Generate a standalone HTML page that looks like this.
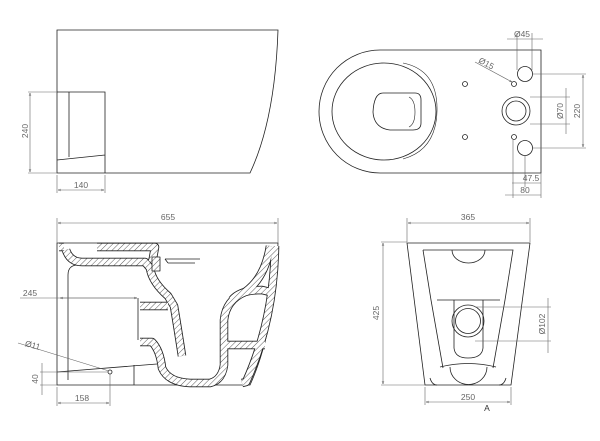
<!DOCTYPE html>
<html><head><meta charset="utf-8"><style>
html,body{margin:0;padding:0;background:#fff}
svg{display:block}
text{font-family:"Liberation Sans",sans-serif;font-size:8.5px;fill:#666}
</style></head><body>
<svg width="600" height="441" viewBox="0 0 600 441" xmlns="http://www.w3.org/2000/svg">
<defs>
<pattern id="h" width="4" height="4" patternUnits="userSpaceOnUse" patternTransform="rotate(45)">
<rect width="4" height="4" fill="#fff"/><line x1="0" y1="0" x2="0" y2="4" stroke="#333" stroke-width="0.8"/>
</pattern>
<marker id="a" viewBox="0 0 6 6" refX="6" refY="3" markerWidth="5" markerHeight="5" orient="auto-start-reverse"><path d="M0,1 L6,3 L0,5" fill="none" stroke="#555" stroke-width="0.8"/></marker>
</defs>
<g fill="none" stroke="#222" stroke-width="0.8">
<!-- top-left side view -->
<path d="M57,173 L57,30 L278,30 Q275,120 250,173 Z"/>
<path d="M57,92 L105,92 L105,173 M69,92 L69,157 M57,160 L105,155"/>
<!-- top-right plan -->
<path d="M380,50 L541,50 L541,173 L380,173 A61,61.5 0 0 1 380,50 Z"/>
<ellipse cx="384" cy="111.5" rx="52" ry="48.5"/>
<path d="M403,63 Q438,70 437,111 Q436,150 403,159" stroke-width="0.6"/>
<path d="M383,93 L415,93 Q421,93 421,100 L421,123 Q421,130 413,130 L390,130 Q374,128 373,112 Q374,93 383,93 Z"/>
<path d="M409,97 Q415,100 415,112 Q415,124 409,127" stroke-width="0.6"/>
<circle cx="465" cy="84" r="2.5"/><circle cx="465" cy="137" r="2.5"/>
<circle cx="514" cy="84" r="2.5"/><circle cx="514" cy="137" r="2.5"/>
<circle cx="525" cy="74" r="7.5"/><circle cx="525" cy="148" r="7.5"/>
<circle cx="516" cy="111" r="14"/><circle cx="516" cy="111" r="10"/>
<!-- bottom-left section -->
<path d="M57,385 L57,243 L278,243 Q275,330 250,385 Z"/>
<path d="M68,380 L68,275 Q68,265 78,265"/>
<path d="M57,372 L157,364 M134,365 L134,385 M138,298 L138,340"/>
<path d="M165,259 L200,259 M168,263 L195,263 M165,259 L168,263"/>
<circle cx="110" cy="372" r="2"/>
<!-- bottom-right front -->
<path d="M407,243 L530,243 L511,385 L425,385 Z"/>
<path d="M423,250 L513,250 L505,300 L493,368 M423,250 L431,300 L443,368"/>
<path d="M452,250 A16.5,13 0 0 0 485,250"/>
<path d="M437,300 L500,300"/>
<path d="M454,300 L454,348 Q455,358 468,358 Q482,358 483,348 L483,300"/>
<circle cx="468" cy="321" r="16"/><circle cx="468" cy="321" r="12.5"/>
<path d="M440,367 Q468,360 496,367 M450,367 A18,17 0 0 0 487,367"/>
<path d="M430,378 Q432,385 437,385 M506,378 Q504,385 499,385"/>
</g>
<!-- hatched section walls -->
<g fill="none" stroke-linejoin="round" stroke-linecap="butt">
<g stroke="#222" stroke-width="8.5">
<path d="M59,247 L64,247 M97,247 L155,247 L153,258 L152,262"/>
<path d="M66,250 Q70,262 82,262 L145,262 L150,268 Q152,282 168,296 L174,306 Q178,330 182,356"/>
<path d="M140,306 L168,306"/>
<path d="M140,342 L152,342 Q160,350 162,368 Q168,382 190,383 L210,383 Q222,380 224,365 L224,320 Q226,300 245,292 Q265,278 270,246"/>
<path d="M275,246 Q274,320 246,382 L242,383"/>
<path d="M225,345 L265,345"/>
<path d="M232,300 Q240,290 262,290 L270,292"/>
</g>
<g stroke="url(#h)" stroke-width="6.8">
<path d="M59,247 L64,247 M97,247 L155,247 L153,258 L152,262"/>
<path d="M66,250 Q70,262 82,262 L145,262 L150,268 Q152,282 168,296 L174,306 Q178,330 182,356"/>
<path d="M140,306 L168,306"/>
<path d="M140,342 L152,342 Q160,350 162,368 Q168,382 190,383 L210,383 Q222,380 224,365 L224,320 Q226,300 245,292 Q265,278 270,246"/>
<path d="M275,246 Q274,320 246,382 L242,383"/>
<path d="M225,345 L265,345"/>
<path d="M232,300 Q240,290 262,290 L270,292"/>
</g>
<rect x="152" y="257" width="8" height="14" fill="url(#h)" stroke="#222" stroke-width="0.8"/>
</g>
<!-- dimensions -->
<g fill="none" stroke="#666" stroke-width="0.6">
<path d="M28,92 L57,92 M28,173 L57,173 M57,175 L57,193 M105,175 L105,193"/>
<path d="M30,93 L30,172" marker-start="url(#a)" marker-end="url(#a)"/>
<path d="M58,190 L104,190" marker-start="url(#a)" marker-end="url(#a)"/>
<path d="M517,33 L517,70 M532,33 L532,70 M507,39 L543,39"/>
<path d="M475,62 L512,82" marker-end="url(#a)"/>
<path d="M533,74 L586,74 M533,148 L586,148 M530,97 L570,97 M530,124 L570,124"/>
<path d="M583,75 L583,147" marker-start="url(#a)" marker-end="url(#a)"/>
<path d="M566,88 L566,134"/>
<path d="M513,140 L513,198 M525,156 L525,187 M541,173 L541,198"/>
<path d="M512,183 L541,183 M505,195 L541,195"/>
<path d="M57,218 L57,243 M278,218 L278,243"/>
<path d="M58,223 L277,223" marker-start="url(#a)" marker-end="url(#a)"/>
<path d="M20,298 L137,298"/><path d="M60,298 L137,298" marker-start="url(#a)" marker-end="url(#a)"/>
<path d="M18,343 L109,371"/>
<path d="M40,372 L108,372 M40,385 L57,385"/>
<path d="M42,363 L42,395"/>
<path d="M57,387 L57,406 M110,374 L110,406"/>
<path d="M58,403 L109,403" marker-start="url(#a)" marker-end="url(#a)"/>
<path d="M407,218 L407,242 M530,218 L530,242"/>
<path d="M408,223 L529,223" marker-start="url(#a)" marker-end="url(#a)"/>
<path d="M381,242 L407,242 M381,385 L425,385"/>
<path d="M383,243 L383,384" marker-start="url(#a)" marker-end="url(#a)"/>
<path d="M475,307 L551,307 M475,341 L551,341 M548,298 L548,353"/>
<path d="M425,387 L425,405 M511,387 L511,405"/>
<path d="M426,402 L510,402" marker-start="url(#a)" marker-end="url(#a)"/>
</g>
<g>
<text x="30" y="133" text-anchor="middle" transform="rotate(-90 28 133)">240</text>
<text x="81" y="188" text-anchor="middle">140</text>
<text x="522" y="37" text-anchor="middle">Ø45</text>
<text x="485" y="66" text-anchor="middle" transform="rotate(28 485 66)">Ø15</text>
<text x="563" y="111" text-anchor="middle" transform="rotate(-90 563 111)">Ø70</text>
<text x="580" y="111" text-anchor="middle" transform="rotate(-90 580 111)">220</text>
<text x="531" y="181" text-anchor="middle">47.5</text>
<text x="525" y="193" text-anchor="middle">80</text>
<text x="168" y="220" text-anchor="middle">655</text>
<text x="30" y="296" text-anchor="middle">245</text>
<text x="32" y="348" text-anchor="middle" transform="rotate(15 32 348)">Ø11</text>
<text x="38" y="379" text-anchor="middle" transform="rotate(-90 38 379)">40</text>
<text x="82" y="401" text-anchor="middle">158</text>
<text x="468" y="220" text-anchor="middle">365</text>
<text x="379" y="313" text-anchor="middle" transform="rotate(-90 379 313)">425</text>
<text x="545" y="324" text-anchor="middle" transform="rotate(-90 545 324)">Ø102</text>
<text x="468" y="400" text-anchor="middle">250</text>
<text x="487" y="411" text-anchor="middle" style="fill:#333">A</text>
</g>
</svg>
</body></html>
